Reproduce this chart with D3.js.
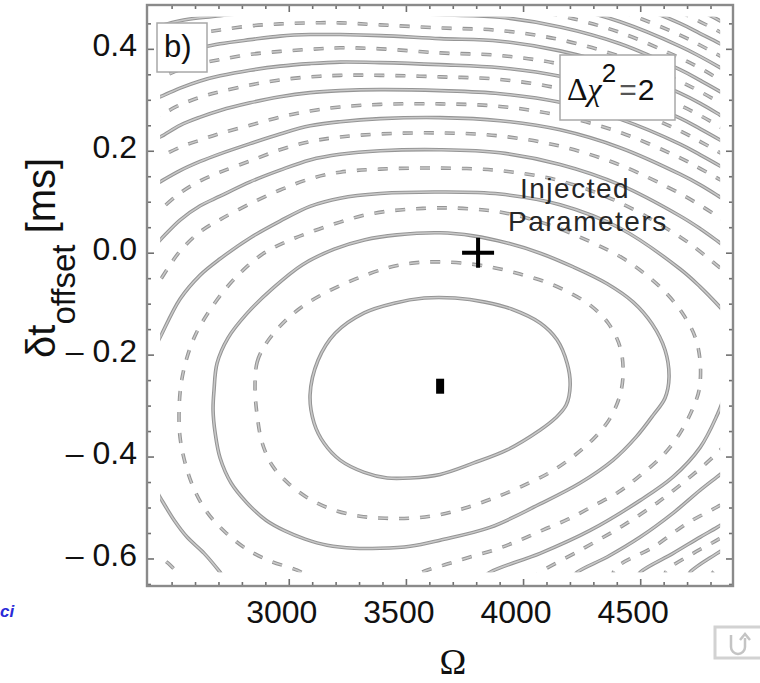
<!DOCTYPE html>
<html>
<head>
<meta charset="utf-8">
<script src="https://cdn.jsdelivr.net/npm/d3@7"></script>
<style>
  html, body { margin: 0; padding: 0; background: #fff; }
  svg { display: block; font-family: "Liberation Sans", Arial, Helvetica, sans-serif; }
</style>
</head>
<body>
<svg id="chart" width="760" height="683"></svg>
<script>
// ---- axis ranges (Omega, delta t offset in ms) ----
const omegaFrame = [2395, 4896];
const dtFrame = [-0.654, 0.486];
// region covered by the chi-square map
const omegaWindow = [2451, 4841];
const dtWindow = [-0.627, 0.463];

const xMajorTicks = [3000, 3500, 4000, 4500];
const xTickLabels = ["3000", "3500", "4000", "4500"];
const yMajorTicks = [-0.6, -0.4, -0.2, 0.0, 0.2, 0.4];
const yTickLabels = ["\u2013 0.6", "\u2013 0.4", "\u2013 0.2", "0.0", "0.2", "0.4"];

// best fit and injected (true) parameters
const bestFit = [3646, -0.262];
const injected = [3808, 0.0];

// ---- contours of delta chi^2, spaced by 2 (index k -> level 2k) ----
// closed rings around the minimum
const ring1 = [[3091,-0.279],[3125,-0.211],[3198,-0.158],[3322,-0.118],[3450,-0.099],[3578,-0.089],[3710,-0.089],[3838,-0.097],[3953,-0.111],[4073,-0.138],[4145,-0.171],[4188,-0.217],[4201,-0.260],[4184,-0.299],[4137,-0.325],[4073,-0.348],[3932,-0.387],[3787,-0.413],[3646,-0.435],[3518,-0.442],[3420,-0.442],[3322,-0.431],[3219,-0.407],[3151,-0.374],[3108,-0.334]];
const ring2 = [[2856,-0.264],[2865,-0.215],[2899,-0.181],[2963,-0.144],[3048,-0.109],[3155,-0.079],[3283,-0.052],[3420,-0.030],[3535,-0.020],[3646,-0.018],[3774,-0.022],[3881,-0.030],[3987,-0.042],[4094,-0.057],[4192,-0.077],[4286,-0.103],[4363,-0.138],[4414,-0.185],[4427,-0.234],[4414,-0.279],[4371,-0.325],[4307,-0.362],[4222,-0.397],[4115,-0.431],[3987,-0.460],[3872,-0.482],[3753,-0.501],[3633,-0.515],[3518,-0.521],[3411,-0.521],[3304,-0.517],[3193,-0.505],[3091,-0.484],[2997,-0.452],[2929,-0.417],[2886,-0.372],[2865,-0.319]];
const ring3 = [[2681,-0.270],[2694,-0.217],[2741,-0.167],[2822,-0.119],[2929,-0.071],[3057,-0.024],[3194,0.007],[3322,0.025],[3462,0.035],[3646,0.039],[3787,0.033],[3932,0.019],[4073,-0.001],[4214,-0.028],[4359,-0.061],[4470,-0.097],[4551,-0.140],[4606,-0.191],[4623,-0.244],[4606,-0.285],[4555,-0.319],[4482,-0.362],[4384,-0.407],[4243,-0.452],[4073,-0.493],[3859,-0.539],[3646,-0.564],[3518,-0.576],[3390,-0.580],[3279,-0.580],[3164,-0.574],[3070,-0.562],[2984,-0.546],[2903,-0.525],[2822,-0.491],[2754,-0.452],[2707,-0.403],[2686,-0.354],[2677,-0.309]];
// fourth level, open at the lower edge
const arc4 = [[3134,-0.647],[3036,-0.623],[2920,-0.605],[2822,-0.582],[2728,-0.548],[2651,-0.509],[2596,-0.464],[2558,-0.413],[2536,-0.362],[2532,-0.309],[2541,-0.256],[2566,-0.205],[2605,-0.158],[2656,-0.118],[2716,-0.079],[2792,-0.040],[2890,-0.002],[2997,0.023],[3108,0.043],[3219,0.060],[3326,0.074],[3433,0.082],[3539,0.086],[3646,0.088],[3774,0.086],[3923,0.078],[4115,0.054],[4299,0.019],[4423,-0.010],[4521,-0.042],[4606,-0.077],[4679,-0.118],[4734,-0.165],[4756,-0.215],[4751,-0.270],[4721,-0.309],[4670,-0.354],[4598,-0.397],[4508,-0.434],[4406,-0.470],[4299,-0.497],[4192,-0.523],[4086,-0.544],[3987,-0.564],[3885,-0.582],[3774,-0.597],[3676,-0.611],[3578,-0.625],[3497,-0.643]];

// upper branches (k = 5 ... 24), delta t read at fixed Omega stations
const arcOmega = [2408, 2451, 2536, 2622, 2707, 2835, 2963, 3091, 3219, 3390, 3646, 3902, 4158, 4414, 4670, 4756, 4841, 4926];
const upperLevels = [5, 6, 7, 8, 9, 10, 11, 12, 13, 14, 15, 16, 17, 18, 19, 20, 21, 22, 23, 24];
const _ = null;
const upperDt = [
  [-0.205,-0.166,-0.091,-0.044,-0.012,0.029,0.062,0.091,0.107,0.116,0.119,0.115,0.094,0.048,-0.032,-0.067,-0.107,-0.151],
  [-0.085,-0.054,0.003,0.041,0.065,0.096,0.123,0.145,0.158,0.164,0.166,0.161,0.141,0.098,0.031,0.002,-0.030,-0.065],
  [0.005,0.025,0.064,0.092,0.111,0.139,0.162,0.182,0.193,0.200,0.202,0.196,0.173,0.133,0.072,0.047,0.019,-0.010],
  [0.067,0.084,0.117,0.141,0.158,0.180,0.202,0.218,0.227,0.233,0.235,0.229,0.209,0.172,0.116,0.093,0.068,0.041],
  [0.127,0.139,0.161,0.179,0.194,0.214,0.233,0.249,0.257,0.263,0.265,0.259,0.241,0.206,0.154,0.133,0.109,0.084],
  [0.179,0.188,0.207,0.221,0.234,0.250,0.266,0.278,0.286,0.291,0.292,0.287,0.269,0.236,0.186,0.165,0.143,0.118],
  [0.219,0.227,0.250,0.266,0.279,0.294,0.306,0.314,0.318,0.320,0.318,0.312,0.295,0.262,0.213,0.192,0.170,0.146],
  [0.263,0.270,0.290,0.305,0.316,0.329,0.339,0.345,0.348,0.348,0.345,0.340,0.322,0.289,0.239,0.218,0.196,0.171],
  [0.300,0.306,0.323,0.337,0.347,0.358,0.366,0.371,0.374,0.373,0.369,0.363,0.346,0.313,0.264,0.243,0.221,0.197],
  [0.335,0.343,0.359,0.371,0.379,0.389,0.395,0.399,0.402,0.400,0.392,0.387,0.370,0.337,0.289,0.269,0.247,0.223],
  [0.373,0.378,0.392,0.402,0.410,0.418,0.425,0.428,0.428,0.426,0.420,0.415,0.396,0.363,0.313,0.293,0.270,0.246],
  [0.406,0.412,0.424,0.431,0.437,0.445,0.449,0.451,0.451,0.447,0.441,0.436,0.418,0.385,0.336,0.316,0.294,0.270],
  [0.439,0.445,0.455,0.461,0.465,0.471,0.474,0.475,0.475,0.473,0.467,0.462,0.443,0.410,0.359,0.338,0.316,0.291],
  [_,_,_,_,_,_,_,_,_,0.494,0.488,0.483,0.465,0.432,0.382,0.362,0.339,0.315],
  [_,_,_,_,_,_,_,_,_,_,_,0.503,0.485,0.453,0.405,0.385,0.363,0.339],
  [_,_,_,_,_,_,_,_,_,_,_,_,0.506,0.474,0.427,0.407,0.386,0.363],
  [_,_,_,_,_,_,_,_,_,_,_,_,0.526,0.495,0.450,0.430,0.410,0.387],
  [_,_,_,_,_,_,_,_,_,_,_,_,_,0.516,0.472,0.453,0.433,0.411],
  [_,_,_,_,_,_,_,_,_,_,_,_,_,0.537,0.493,0.475,0.455,0.433],
  [_,_,_,_,_,_,_,_,_,_,_,_,_,_,0.513,0.496,0.477,0.456]
];

// lower-right branches
const lowerRightLevels = [5, 6, 7, 8, 9, 10, 11, 12];
const lowerRightArcs = [
  [[3817,-0.643],[3859,-0.627],[4073,-0.590],[4286,-0.545],[4500,-0.486],[4640,-0.440],[4756,-0.382],[4828,-0.319],[4862,-0.279]],
  [[4030,-0.643],[4073,-0.627],[4243,-0.584],[4414,-0.539],[4572,-0.491],[4713,-0.440],[4811,-0.401],[4862,-0.378]],
  [[4201,-0.643],[4231,-0.627],[4359,-0.597],[4500,-0.558],[4640,-0.511],[4756,-0.466],[4828,-0.440],[4875,-0.423]],
  [[4371,-0.643],[4401,-0.617],[4555,-0.578],[4700,-0.531],[4828,-0.499],[4875,-0.486]],
  [[4478,-0.643],[4500,-0.627],[4640,-0.590],[4756,-0.558],[4828,-0.539],[4875,-0.525]],
  [[4593,-0.643],[4615,-0.623],[4726,-0.590],[4828,-0.564],[4875,-0.550]],
  [[4696,-0.643],[4713,-0.627],[4828,-0.590],[4875,-0.576]],
  [[4798,-0.643],[4811,-0.627],[4862,-0.609]]
];
// lower-left branches
const lowerLeftLevels = [5, 6];
const lowerLeftArcs = [
  [[2408,-0.446],[2451,-0.480],[2511,-0.525],[2566,-0.558],[2639,-0.590],[2707,-0.627],[2733,-0.643]],
  [[2408,-0.580],[2451,-0.597],[2494,-0.613],[2536,-0.633]]
];

// ---- drawing ----
const svg = d3.select("#chart");
const x = d3.scaleLinear().domain(omegaFrame).range([147, 733]);
const y = d3.scaleLinear().domain(dtFrame).range([586, 5]);

svg.append("defs").append("clipPath").attr("id", "mapClip")
  .append("rect")
  .attr("x", x(omegaWindow[0])).attr("y", y(dtWindow[1]))
  .attr("width", x(omegaWindow[1]) - x(omegaWindow[0]))
  .attr("height", y(dtWindow[0]) - y(dtWindow[1]));

const openLine = d3.line().defined(d => d[1] != null)
  .x(d => x(d[0])).y(d => y(d[1])).curve(d3.curveCatmullRom.alpha(0.5));
const closedLine = d3.line()
  .x(d => x(d[0])).y(d => y(d[1])).curve(d3.curveCatmullRomClosed.alpha(0.5));

const map = svg.append("g").attr("clip-path", "url(#mapClip)");

// each level is a grey band with a darker rim; even levels are dashed
function contour(d, level) {
  const dash = level % 2 === 0 ? "10 11" : null;
  const g = map.append("g");
  g.append("path").attr("d", d).attr("fill", "none")
    .attr("stroke", "#959595").attr("stroke-width", 3.6)
    .attr("stroke-dasharray", dash);
  g.append("path").attr("d", d).attr("fill", "none")
    .attr("stroke", "#c9c9c9").attr("stroke-width", 1.5)
    .attr("stroke-dasharray", dash);
}

contour(closedLine(ring1), 1);
contour(closedLine(ring2), 2);
contour(closedLine(ring3), 3);
contour(openLine(arc4), 4);
upperLevels.forEach((lv, i) => {
  const pts = arcOmega.map((o, j) => [o, upperDt[i][j]]);
  contour(openLine(pts), lv);
});
lowerRightLevels.forEach((lv, i) => contour(openLine(lowerRightArcs[i]), lv));
lowerLeftLevels.forEach((lv, i) => contour(openLine(lowerLeftArcs[i]), lv));

// ---- axes: inward ticks on all four sides ----
const xMinor = d3.range(2500, 4900, 100).filter(v => !xMajorTicks.includes(v));
const yMinor = d3.range(-0.65, 0.46, 0.05).map(v => +v.toFixed(2))
  .filter(v => !yMajorTicks.some(t => Math.abs(t - v) < 1e-6) && v > dtFrame[0]);

function styleAxis(g) {
  g.select(".domain").remove();
  g.selectAll(".tick line").attr("stroke", "#707070").attr("stroke-width", 1.6);
}

const bottom = svg.append("g").attr("transform", "translate(0,586)")
  .call(d3.axisBottom(x).tickValues(xMajorTicks).tickSize(-7).tickPadding(14)
    .tickFormat((d, i) => xTickLabels[i]));
styleAxis(bottom);
bottom.selectAll("text").attr("font-size", 32).attr("fill", "#111").attr("dx", -7.5)
  .style("font-family", "'Liberation Sans', Arial, sans-serif");
svg.append("g").attr("transform", "translate(0,586)")
  .call(d3.axisBottom(x).tickValues(xMinor).tickSize(-4).tickFormat(""))
  .call(styleAxis);
svg.append("g").attr("transform", "translate(0,5)")
  .call(d3.axisTop(x).tickValues(xMajorTicks).tickSize(-7).tickFormat(""))
  .call(styleAxis);
svg.append("g").attr("transform", "translate(0,5)")
  .call(d3.axisTop(x).tickValues(xMinor).tickSize(-4).tickFormat(""))
  .call(styleAxis);

const left = svg.append("g").attr("transform", "translate(147,0)")
  .call(d3.axisLeft(y).tickValues(yMajorTicks).tickSize(-7).tickPadding(10)
    .tickFormat((d, i) => yTickLabels[i]));
styleAxis(left);
left.selectAll("text").attr("font-size", 32).attr("fill", "#111").attr("dy", "0.22em")
  .style("font-family", "'Liberation Sans', Arial, sans-serif");
svg.append("g").attr("transform", "translate(147,0)")
  .call(d3.axisLeft(y).tickValues(yMinor).tickSize(-4).tickFormat(""))
  .call(styleAxis);
svg.append("g").attr("transform", "translate(733,0)")
  .call(d3.axisRight(y).tickValues(yMajorTicks).tickSize(-7).tickFormat(""))
  .call(styleAxis);
svg.append("g").attr("transform", "translate(733,0)")
  .call(d3.axisRight(y).tickValues(yMinor).tickSize(-4).tickFormat(""))
  .call(styleAxis);

// frame
svg.append("rect")
  .attr("x", x(omegaFrame[0])).attr("y", y(dtFrame[1]))
  .attr("width", x(omegaFrame[1]) - x(omegaFrame[0]))
  .attr("height", y(dtFrame[0]) - y(dtFrame[1]))
  .attr("fill", "none").attr("stroke", "#8a8a8a").attr("stroke-width", 2.4);

// ---- markers ----
svg.append("rect")
  .attr("x", x(bestFit[0]) - 4).attr("y", y(bestFit[1]) - 7.5)
  .attr("width", 8).attr("height", 15).attr("fill", "#000");

const px = x(injected[0]), py = y(injected[1]);
svg.append("path")
  .attr("d", `M${px - 16},${py}H${px + 16}M${px},${py - 15}V${py + 15}`)
  .attr("stroke", "#000").attr("stroke-width", 4).attr("fill", "none");

// ---- annotations ----
svg.append("text").attr("x", 520).attr("y", 198).attr("font-size", 28)
  .attr("letter-spacing", 1.5).attr("fill", "#262626").text("Injected");
svg.append("text").attr("x", 508).attr("y", 231).attr("font-size", 28)
  .attr("letter-spacing", 1.5).attr("fill", "#262626").text("Parameters");

// panel tag
svg.append("rect").attr("x", 157).attr("y", 23).attr("width", 50).attr("height", 49)
  .attr("fill", "#fff").attr("stroke", "#a8a8a8").attr("stroke-width", 1.5);
svg.append("text").attr("x", 164).attr("y", 57).attr("font-size", 31).attr("fill", "#111").text("b)");

// contour spacing label
svg.append("rect").attr("x", 560).attr("y", 55).attr("width", 115).attr("height", 65)
  .attr("fill", "#fff").attr("stroke", "#a8a8a8").attr("stroke-width", 1.5);
const lab = svg.append("text").attr("x", 567).attr("y", 100).attr("fill", "#111");
lab.append("tspan").attr("font-family", "'Liberation Serif', 'Times New Roman', serif")
  .attr("font-size", 32).text("\u0394");
lab.append("tspan").attr("font-family", "'Liberation Serif', 'Times New Roman', serif")
  .attr("font-style", "italic").attr("font-size", 32).text("\u03C7");
lab.append("tspan").attr("font-size", 26).attr("dy", -18).text("2");
lab.append("tspan").attr("font-size", 30).attr("dy", 18).attr("dx", 3).attr("fill", "#555").text("=");
lab.append("tspan").attr("font-size", 30).attr("dx", 1).text("2");

// axis titles
const yt = svg.append("text").attr("transform", "translate(55,358) rotate(-90)")
  .attr("font-size", 40).attr("fill", "#111").style("white-space", "pre");
yt.append("tspan").text("\u03B4t");
yt.append("tspan").attr("font-size", 33).attr("dy", 20).text("offset");
yt.append("tspan").attr("dy", -20).text(" [ms]");

svg.append("text").attr("x", 453).attr("y", 674).attr("text-anchor", "middle")
  .attr("font-family", "'Liberation Serif', 'Times New Roman', serif")
  .attr("font-size", 36).attr("fill", "#111").text("\u03A9");

// page fragments around the figure
svg.append("text").attr("x", 0).attr("y", 617)
  .attr("font-size", 17).attr("font-weight", "bold").attr("font-style", "italic")
  .attr("fill", "#2a2ad8").text("ci");
svg.append("rect").attr("x", 715).attr("y", 627).attr("width", 50).attr("height", 31)
  .attr("fill", "#fff").attr("stroke", "#d2d2d2").attr("stroke-width", 3);
svg.append("path")
  .attr("d", "M731,635V647A7,7 0 0 0 745,647V638M740,640L745,634L750,640")
  .attr("fill", "none").attr("stroke", "#c4c4c4").attr("stroke-width", 2.5);
</script>
</body>
</html>
